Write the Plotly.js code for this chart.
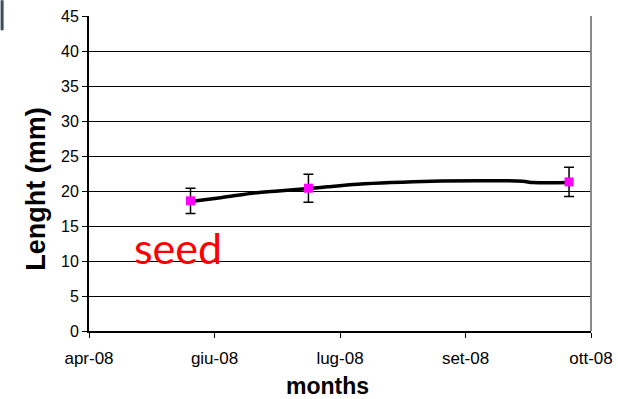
<!DOCTYPE html>
<html>
<head>
<meta charset="utf-8">
<script src="https://cdn.plot.ly/plotly-3.0.1.min.js"></script>
<style>
  html, body { margin: 0; padding: 0; background: #fff; }
  #chart { width: 618px; height: 399px; }
</style>
</head>
<body>
<div id="chart"></div>
<script>
// Sampling dates and mean shell length (mm) with standard deviation
const sampleDates = ['2008-05-08', '2008-06-20', '2008-09-23'];
const meanLength = [18.6, 20.4, 21.3];
const sdLength = [1.8, 2.0, 2.1];

// Growth curve drawn through the season
const curveDates = ['2008-05-08', '2008-05-19', '2008-06-02', '2008-06-09', '2008-06-20',
                    '2008-06-27', '2008-07-08', '2008-07-20', '2008-08-04', '2008-08-21',
                    '2008-09-06', '2008-09-10', '2008-09-23'];
const curveLength = [18.5, 19.05, 19.8, 20.0, 20.35, 20.6, 20.95, 21.2, 21.4, 21.45, 21.4, 21.2, 21.2];

// Month axis labels, evenly spaced between April and October
const tickDates = ['2008-04-01', '2008-05-16 18:00', '2008-07-01 12:00', '2008-08-16 06:00', '2008-10-01'];
const tickLabels = ['apr-08', 'giu-08', 'lug-08', 'set-08', 'ott-08'];
const yTicks = [0, 5, 10, 15, 20, 25, 30, 35, 40, 45];

const traces = [
  {
    x: curveDates, y: curveLength, type: 'scatter', mode: 'lines',
    line: { color: '#000', width: 3.5, shape: 'spline' },
    hoverinfo: 'skip', showlegend: false
  },
  {
    x: sampleDates, y: meanLength, type: 'scatter', mode: 'markers',
    marker: { symbol: 'square', size: 9, color: '#ff00ff' },
    error_y: { type: 'data', array: sdLength, visible: true, color: '#000', thickness: 1.5, width: 5 },
    showlegend: false
  }
];

const layout = {
  width: 618, height: 399,
  margin: { l: 88.5, r: 27, t: 15.7, b: 68.3 },
  paper_bgcolor: '#fff', plot_bgcolor: '#fff',
  font: { family: 'Liberation Sans, Arial, sans-serif', color: '#000' },
  xaxis: {
    type: 'date',
    range: ['2008-04-01', '2008-10-01'],
    tickmode: 'array', tickvals: tickDates, ticktext: tickLabels,
    tickfont: { size: 17 },
    ticks: 'outside', ticklen: 5, tickcolor: '#000', tickwidth: 1,
    ticklabelstandoff: 6,
    showline: true, linecolor: '#000', linewidth: 2,
    showgrid: false, zeroline: false
  },
  yaxis: {
    range: [0, 45],
    tickmode: 'array', tickvals: yTicks,
    tickfont: { size: 16 },
    ticks: 'outside', ticklen: 5, tickcolor: '#000', tickwidth: 1,
    showline: true, linecolor: '#000', linewidth: 2,
    showgrid: true, gridcolor: '#000', gridwidth: 1,
    zeroline: false
  },
  shapes: [
    { type: 'line', xref: 'paper', yref: 'paper', x0: 1, x1: 1, y0: 0, y1: 1,
      line: { color: '#8a8a8a', width: 2 } },
    { type: 'rect', xref: 'paper', yref: 'paper', x0: -0.1761, x1: -0.1701, y0: 0.9546, y1: 1.05,
      fillcolor: '#3d4b5c', line: { width: 0 } }
  ],
  annotations: [
    { text: '<b>months</b>', xref: 'paper', yref: 'paper', x: 0.4756, y: -0.174,
      xanchor: 'center', yanchor: 'middle', showarrow: false, borderpad: 0,
      font: { size: 23 } },
    { text: '<b>Lenght (mm)</b>', xref: 'paper', yref: 'paper', x: -0.1045, y: 0.45,
      xanchor: 'center', yanchor: 'middle', textangle: -90, showarrow: false,
      font: { size: 27 } },
    { text: 'seed', xref: 'paper', yref: 'paper', x: 0.177, y: 0.266,
      xanchor: 'center', yanchor: 'middle', showarrow: false,
      font: { family: 'Lato, Open Sans, sans-serif', size: 43, color: '#ff0000' } }
  ]
};

Plotly.newPlot('chart', traces, layout, { displayModeBar: false, staticPlot: true });
</script>
</body>
</html>
